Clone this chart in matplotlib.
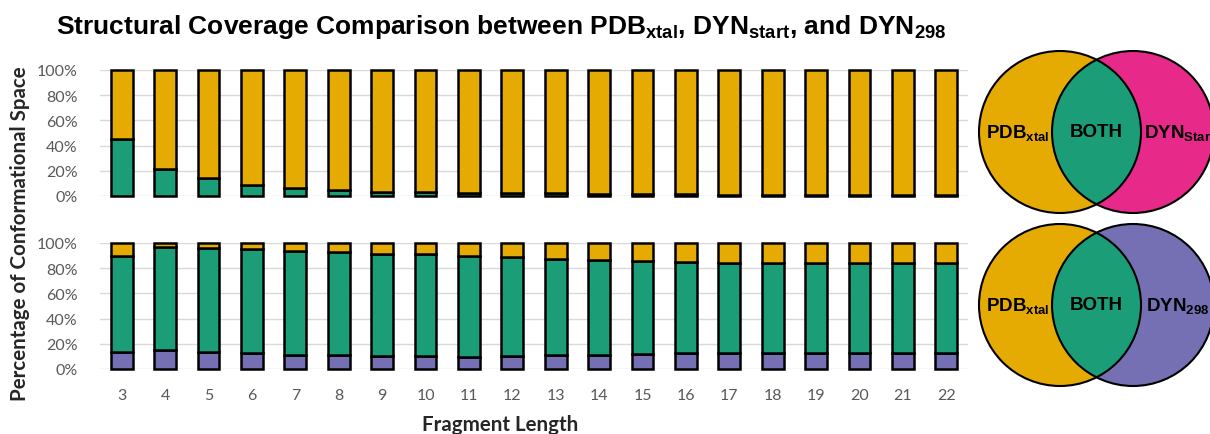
import numpy as np
import matplotlib
matplotlib.use("Agg")
import matplotlib.pyplot as plt
from matplotlib.patches import Circle
from matplotlib.ticker import PercentFormatter

plt.rcParams["font.family"] = ["Lato", "DejaVu Sans"]
plt.rcParams["mathtext.fontset"] = "custom"
plt.rcParams["mathtext.rm"] = "Liberation Sans:bold"
plt.rcParams["mathtext.it"] = "Liberation Sans:bold"
plt.rcParams["mathtext.bf"] = "Liberation Sans:bold"

# fragment lengths
frag_len = list(range(3, 23))

# PDB_xtal vs DYN_start (% of conformational space)
start_both = [45, 21.5, 14, 8.5, 6, 4.5, 3.5, 3, 2.5, 2, 2, 1.5, 1.5, 1.5, 1, 1, 1, 1, 1, 1]
start_pdb = [100 - b for b in start_both]

# PDB_xtal vs DYN_298
d298_only = [13.5, 15, 13.5, 12.5, 11, 11, 10, 10, 9.5, 10, 11, 11.5, 12, 12.5, 12.5, 12.5,
             12.5, 12.5, 12.5, 12.5]
d298_both = [76, 81.5, 82.5, 83, 83, 81.5, 81.5, 81, 80.5, 79, 76.5, 75, 73.5, 72.5, 72, 72,
             72, 72, 72, 72]
d298_pdb = [100 - a - b for a, b in zip(d298_only, d298_both)]

YELLOW = "#E6AB02"
GREEN = "#1B9E77"
PURPLE = "#7570B3"
PINK = "#E7298A"
GRAY = "#595959"

W, H = 1210, 435
fig = plt.figure(figsize=(W / 100, H / 100), dpi=100)


def px_axes(x0, y0, x1, y1):
    return fig.add_axes([x0 / W, 1 - y1 / H, (x1 - x0) / W, (y1 - y0) / H])


def style_bar_axes(ax):
    ax.set_xlim(2.5, 22.5)
    ax.set_ylim(0, 100)
    ax.set_yticks(np.arange(0, 101, 20))
    ax.yaxis.set_major_formatter(PercentFormatter(decimals=0))
    ax.grid(axis="y", color="#D9D9D9", lw=1)
    ax.set_axisbelow(True)
    for s in ax.spines.values():
        s.set_visible(False)
    ax.tick_params(length=0, labelsize=11.5, labelcolor=GRAY, pad=16)


bar_kw = dict(width=0.5, edgecolor="black", linewidth=1.8, clip_on=False)

ax1 = px_axes(100, 71, 968, 197)
style_bar_axes(ax1)
ax1.bar(frag_len, start_both, color=GREEN, **bar_kw)
ax1.bar(frag_len, start_pdb, bottom=start_both, color=YELLOW, **bar_kw)
ax1.set_xticks(frag_len)
ax1.tick_params(axis="x", labelbottom=False)

ax2 = px_axes(100, 244, 968, 370)
style_bar_axes(ax2)
ax2.bar(frag_len, d298_only, color=PURPLE, **bar_kw)
ax2.bar(frag_len, d298_both, bottom=d298_only, color=GREEN, **bar_kw)
ax2.bar(frag_len, d298_pdb, bottom=np.add(d298_only, d298_both), color=YELLOW, **bar_kw)
ax2.set_xticks(frag_len)
ax2.tick_params(axis="x", pad=14)

fig.text(500 / W, 1 - 425 / H, "Fragment Length", ha="center", va="center",
         fontsize=14.8, fontweight="bold", color="#262626")
fig.text(20 / W, 1 - 234 / H, "Percentage of Conformational Space", ha="center", va="center",
         rotation=90, fontsize=14.8, fontweight="bold", color="#262626")

fig.text(501 / W, 1 - 27 / H,
         r"Structural Coverage Comparison between PDB$_{\mathrm{xtal}}$, "
         r"DYN$_{\mathrm{start}}$, and DYN$_{\mathrm{298}}$",
         ha="center", va="center", fontsize=19, fontweight="bold",
         family="Liberation Sans")

# venn diagrams
axv = px_axes(960, 0, 1210, 435)
axv.set_xlim(960, 1210)
axv.set_ylim(435, 0)
axv.axis("off")


def venn(cy, right_color, right_label):
    r = 81
    lx, rx = 1060, 1133
    left = Circle((lx, cy), r, facecolor=YELLOW, edgecolor="none")
    right = Circle((rx, cy), r, facecolor=right_color, edgecolor="none")
    axv.add_patch(left)
    axv.add_patch(right)
    mid = Circle((rx, cy), r, facecolor=GREEN, edgecolor="none")
    axv.add_patch(mid)
    mid.set_clip_path(left)
    for cx in (lx, rx):
        axv.add_patch(Circle((cx, cy), r, facecolor="none", edgecolor="black", lw=1.5,
                             clip_on=False))
    kw = dict(ha="center", va="center", fontsize=13.5, family="Liberation Sans",
              fontweight="bold")
    axv.text(1018, cy, r"PDB$_{\mathrm{xtal}}$", **kw)
    axv.text(1096, cy, "BOTH", **kw)
    axv.text(right_label[1], cy, right_label[0], **kw)


venn(133, PINK, (r"DYN$_{\mathrm{Start}}$", 1180))
venn(306, PURPLE, (r"DYN$_{\mathrm{298}}$", 1178))

fig.savefig("out.png", dpi=100)
